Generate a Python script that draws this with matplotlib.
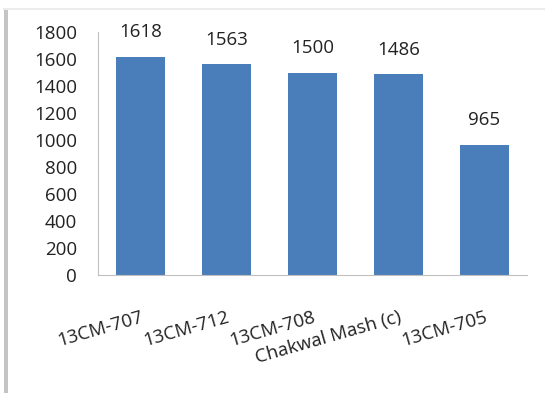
import matplotlib.pyplot as plt
from matplotlib.lines import Line2D
from matplotlib.patches import Rectangle

# categories and values
varieties = ['13CM-707', '13CM-712', '13CM-708', 'Chakwal Mash (c)', '13CM-705']
yields = [1618, 1563, 1500, 1486, 965]
yticks = [0, 200, 400, 600, 800, 1000, 1200, 1400, 1600, 1800]

plt.rcParams['font.family'] = ['Open Sans', 'DejaVu Sans']

fig = plt.figure(figsize=(5.45, 3.93), dpi=100)
ax = fig.add_axes([98 / 545, 1 - 275 / 393, 429 / 545, 243 / 393])

bars = ax.bar(range(len(varieties)), yields, width=0.57, color='#4A7EBB')
ax.bar_label(bars, labels=[str(v) for v in yields], padding=11, fontsize=13.5, color='#222222')

ax.set_xlim(-0.5, len(varieties) - 0.5)
ax.set_ylim(0, 1800)
ax.set_yticks(yticks)
ax.tick_params(axis='y', length=0, pad=15, labelsize=13.5, labelcolor='#222222')
ax.set_xticks(range(len(varieties)))
ax.set_xticklabels(varieties, rotation=16, ha='right', rotation_mode='anchor',
                   fontsize=13.5, color='#222222')
ax.tick_params(axis='x', length=0, pad=24)

for s in ['top', 'right']:
    ax.spines[s].set_visible(False)
ax.spines['left'].set_color('#c0c0c0')
ax.spines['bottom'].set_color('#c0c0c0')

# picture frame: grey strip on the left and a faint line on top
fig.patches.append(Rectangle((4 / 545, 0.0), 4 / 545, 1 - 8 / 393, transform=fig.transFigure,
                             facecolor='#c4c4c4', edgecolor='none'))
fig.lines.append(Line2D([4 / 545, 1], [1 - 9 / 393, 1 - 9 / 393], transform=fig.transFigure,
                        color='#ececec', linewidth=1.5))

fig.savefig('out.png', dpi=100)
